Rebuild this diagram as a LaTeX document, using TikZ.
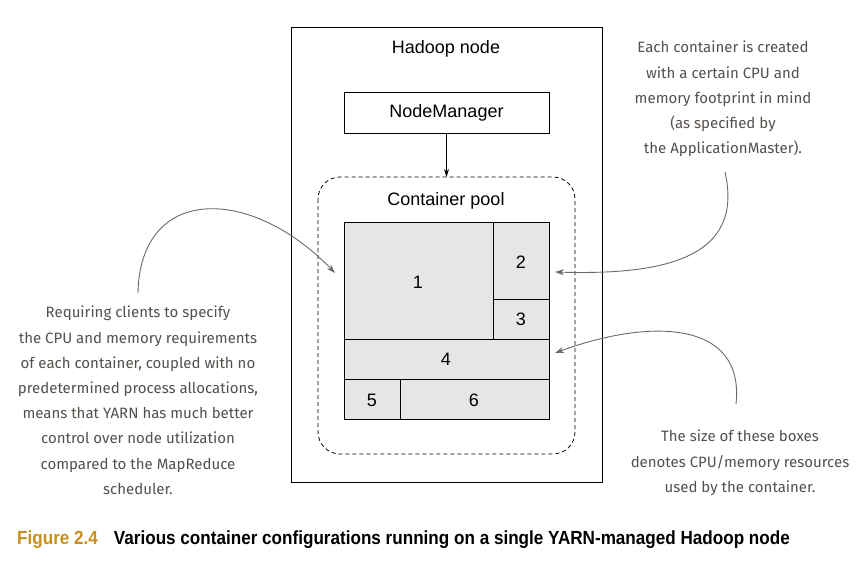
\documentclass[tikz,border=0pt]{standalone}
\usepackage{fontspec}
\setmainfont{Liberation Sans}
\newfontfamily\handfont{Fira Sans}
\newfontfamily\capfont[FakeStretch=0.9]{Liberation Sans}
\usetikzlibrary{arrows.meta}
\definecolor{boxfill}{HTML}{E6E6E6}
\definecolor{handcol}{HTML}{55504C}
\definecolor{arrowcol}{HTML}{6A6A6A}
\definecolor{figgold}{HTML}{C8901A}
\tikzset{
  plain/.style={draw=black, line width=0.8pt},
  cell/.style={draw=black, line width=0.8pt, fill=boxfill},
  lbl/.style={font=\fontsize{18}{20}\selectfont, inner sep=0pt},
  note/.style={font=\handfont\fontsize{15}{25.2}\selectfont, text=handcol, align=center, inner sep=0pt},
  callout/.style={draw=arrowcol, line width=0.9pt, -{Stealth[length=9pt,width=6pt]}},
}
\begin{document}
\begin{tikzpicture}[x=1pt,y=-1pt]
\useasboundingbox (0,0) rectangle (863,563);
\fill[white] (0,0) rectangle (863,563);
% Hadoop node
\draw[plain] (291,27) rectangle (602,482);
\node[lbl] (hn) at (446,49) {Hadoop node};
% NodeManager
\node[plain, minimum width=205pt, minimum height=41pt, inner sep=0pt, font=\fontsize{18}{20}\selectfont] (nm) at (446.5,112.5) {NodeManager};
% Container pool
\draw[black, line width=0.8pt, dashed, dash pattern=on 4pt off 3pt, rounded corners=22pt] (318,177) rectangle (575,454);
\coordinate (pooltop) at (446.5,177);
\node[lbl] (cp) at (446,201) {Container pool};
\draw[plain, -{Stealth[length=8pt,width=5pt]}] (nm.south) -- (pooltop);
% cells
\draw[cell] (344,222) rectangle (493,339);
\draw[cell] (493,222) rectangle (549,299);
\draw[cell] (493,299) rectangle (549,339);
\draw[cell] (344,339) rectangle (549,379);
\draw[cell] (344,379) rectangle (400,419);
\draw[cell] (400,379) rectangle (549,419);
\node[lbl] (c1) at (418,282) {1};
\node[lbl] (c2) at (521,262) {2};
\node[lbl] (c3) at (521,319) {3};
\node[lbl] (c4) at (446,359) {4};
\node[lbl] (c5) at (372,400) {5};
\node[lbl] (c6) at (474,400) {6};
\coordinate (t1) at (335,273);
\coordinate (t2) at (555,272);
\coordinate (t4) at (555,353);
% notes
\node[note, anchor=north] (ntr) at (723,41) {Each container is created\\with a certain CPU and\\memory footprint in mind\\(as specified by\\the ApplicationMaster).};
\node[note, anchor=north] (nl) at (138,306) {Requiring clients to specify\\the CPU and memory requirements\\of each container, coupled with no\\predetermined process allocations,\\means that YARN has much better\\control over node utilization\\compared to the MapReduce\\scheduler.};
\node[note, anchor=north] (nbr) at (740,430) {The size of these boxes\\denotes CPU/memory resources\\used by the container.};
\coordinate (s1) at (138,293);
\coordinate (s2) at (725,172);
\coordinate (s4) at (736,404);
\draw[callout] (s1) .. controls (140,185) and (250,185) .. (t1);
\draw[callout] (s2) .. controls (745,260) and (660,275) .. (t2);
\draw[callout] (s4) .. controls (745,320) and (650,318) .. (t4);
% caption
\node[anchor=base west, inner sep=0pt, font=\capfont\bfseries\fontsize{19}{22}\selectfont] (cap) at (17,544) {\textcolor{figgold}{Figure 2.4}\hspace{16pt}Various container configurations running on a single YARN-managed Hadoop node};
\end{tikzpicture}
\end{document}
